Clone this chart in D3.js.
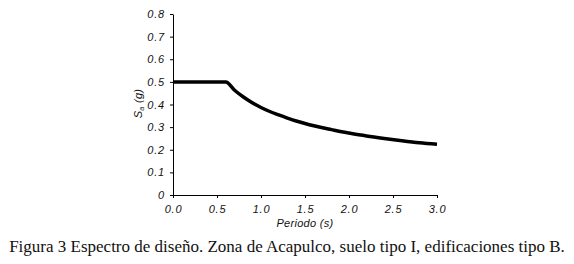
<!DOCTYPE html>
<html>
  <head>
    <meta charset="utf-8">
    <title>Espectro de diseño</title>
    <script src="https://d3js.org/d3.v7.min.js"></script>
    <style>
      body { margin: 0; background: #fff; }
      .tick text { font-family: "Liberation Sans", Arial, sans-serif; font-style: italic; font-size: 11px; letter-spacing: 0.8px; fill: #111; }
      .lbl { font-family: "Liberation Sans", Arial, sans-serif; font-style: italic; font-size: 11px; letter-spacing: 0.3px; fill: #111; }
      .caption { font-family: "Liberation Serif", "Times New Roman", serif; font-size: 17px; fill: #111; }
    </style>
  </head>
  <body>
    <div id="chart"></div>
    <script>
      // Periodo (s) and Sa (g)
      var periods = [0.0, 0.6, 0.7, 0.8, 0.9, 1.0, 1.1, 1.2, 1.3, 1.4, 1.5, 1.6, 1.7, 1.8, 1.9, 2.0, 2.2, 2.4, 2.6, 2.8, 3.0];
      var sa      = [0.5, 0.5, 0.463, 0.433, 0.408, 0.387, 0.369, 0.354, 0.340, 0.327, 0.316, 0.306, 0.297, 0.289, 0.281, 0.274, 0.261, 0.250, 0.240, 0.231, 0.224];
      var xTicks = [0, 0.5, 1.0, 1.5, 2.0, 2.5, 3.0];
      var yTicks = [0, 0.1, 0.2, 0.3, 0.4, 0.5, 0.6, 0.7, 0.8];
      var caption = "Figura 3 Espectro de diseño. Zona de Acapulco, suelo tipo I, edificaciones tipo B.";

      var W = 574, H = 264;
      var mLeft = 173, mRight = 437, mTop = 14, mBottom = 195;

      var svg = d3.select("#chart").append("svg")
        .attr("width", W)
        .attr("height", H);

      var x = d3.scaleLinear().domain([0, 3]).range([mLeft, mRight]);
      var y = d3.scaleLinear().domain([0, 0.8]).range([mBottom, mTop]);

      // axes
      svg.append("g")
        .attr("transform", "translate(0," + mBottom + ")")
        .call(d3.axisBottom(x).tickValues(xTicks).tickSize(3).tickSizeOuter(0).tickPadding(7).tickFormat(d3.format(".1f")))
        .call(function(g) { g.selectAll("line, path").attr("stroke", "#000"); });

      svg.append("g")
        .attr("transform", "translate(" + mLeft + ",0)")
        .call(d3.axisLeft(y).tickValues(yTicks).tickSize(3).tickSizeOuter(0).tickPadding(5).tickFormat(function(d) { return d === 0 ? "0" : d3.format(".1f")(d); }))
        .call(function(g) { g.selectAll("line, path").attr("stroke", "#000"); });

      // the spectrum
      var pts = periods.map(function(t, i) { return [t, sa[i]]; });
      var line = d3.line()
        .x(function(d) { return x(d[0]); })
        .y(function(d) { return y(d[1]); })
        .curve(d3.curveMonotoneX);

      svg.append("path")
        .datum(pts)
        .attr("d", line)
        .attr("fill", "none")
        .attr("stroke", "#000")
        .attr("stroke-width", 3.5);

      // axis titles
      svg.append("text")
        .attr("class", "lbl")
        .attr("x", (mLeft + mRight) / 2)
        .attr("y", 227)
        .attr("text-anchor", "middle")
        .text("Periodo (s)");

      var yl = svg.append("text")
        .attr("class", "lbl")
        .attr("text-anchor", "middle")
        .attr("transform", "translate(142," + ((mTop + mBottom) / 2 - 1) + ") rotate(-90)");
      yl.append("tspan").text("S");
      yl.append("tspan").attr("font-size", "7px").attr("dy", 2).text("a");
      yl.append("tspan").attr("dy", -2).text(" (g)");

      // caption
      svg.append("text")
        .attr("class", "caption")
        .attr("x", 287)
        .attr("y", 252)
        .attr("text-anchor", "middle")
        .text(caption);
    </script>
  </body>
</html>
